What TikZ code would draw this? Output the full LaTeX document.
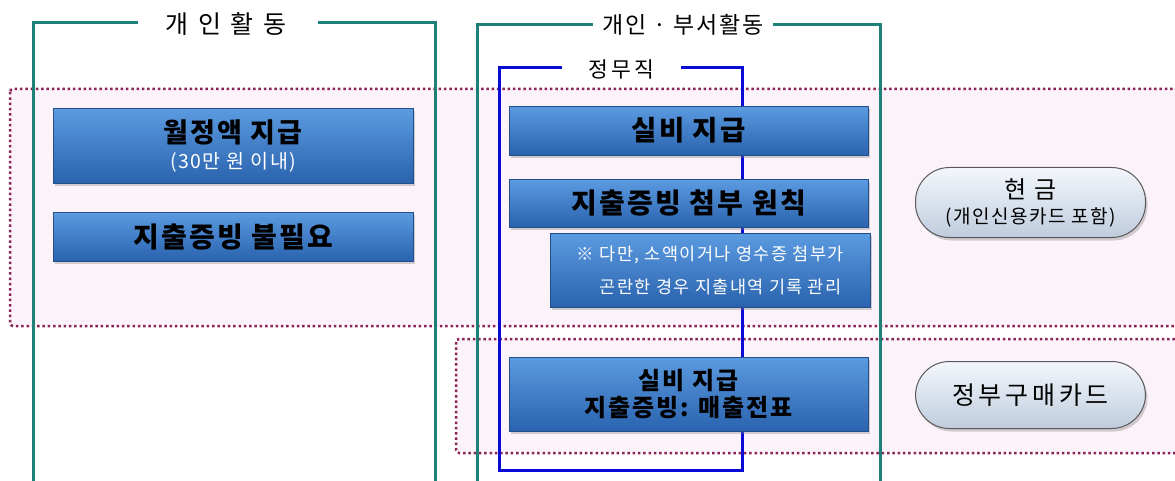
\documentclass[tikz,border=0pt]{standalone}
\usepackage{fontspec}
\setmainfont{Noto Sans CJK KR}
\newfontfamily\kosp[LetterSpace=8]{Noto Sans CJK KR}
\newfontfamily\kospp[LetterSpace=15]{Noto Sans CJK KR}
\usetikzlibrary{shadows}
\definecolor{teal1}{HTML}{1F8077}
\definecolor{blue1}{HTML}{0A0AD8}
\definecolor{dotc}{HTML}{8A2458}
\definecolor{pinkbg}{HTML}{FCF3FA}
\definecolor{boxtop}{HTML}{5B9BE0}
\definecolor{boxbot}{HTML}{2A62AE}
\definecolor{pilltop}{HTML}{F4F7FC}
\definecolor{pillbot}{HTML}{BFCCDD}
\tikzset{
  frameline/.style={line width=3pt, teal1},
  subline/.style={line width=3pt, blue1},
  dotregion/.style={draw=dotc, line width=2.5pt, dash pattern=on 2.5pt off 2.8pt, fill=pinkbg, rounded corners=3pt},
  bluebox/.style={anchor=north west, inner sep=0pt, align=center, top color=boxtop, bottom color=boxbot, draw=boxbot!80!black, line width=0.4pt,
    drop shadow={shadow xshift=1.5pt, shadow yshift=-2.5pt, opacity=0.35}},
  pill/.style={anchor=north west, inner sep=0pt, align=center, rounded corners=34pt, top color=pilltop, bottom color=pillbot, draw=gray!70!black, line width=1pt,
    drop shadow={shadow xshift=2pt, shadow yshift=-3pt, opacity=0.35}},
  title/.style={text=black, inner sep=2pt},
  boxtxt/.style={font=\kosp\fontsize{28}{32}\selectfont\bfseries},
}
\begin{document}
\begin{tikzpicture}[x=1pt,y=-1pt]
\clip (0,0) rectangle (1175,481);
\fill[white] (0,0) rectangle (1175,481);
% dotted regions
\draw[dotregion] (10,89) rectangle (1190,326);
\draw[dotregion] (456,339) rectangle (1190,453);
% left frame
\node[title, font=\kospp\fontsize{25}{28}\selectfont] (t1) at (226,24) {개 인 활 동};
\draw[frameline] (138,23) -- (33,23) -- (33,490);
\draw[frameline] (318,23) -- (435,23) -- (435,490);
% right frame
\node[title, font=\kosp\fontsize{23}{26}\selectfont] (t2) at (683,25) {개인 · 부서활동};
\draw[frameline] (593,25) -- (477,25) -- (477,490);
\draw[frameline] (773,25) -- (880,25) -- (880,490);
% blue frame
\node[title, font=\kospp\fontsize{21.5}{24}\selectfont] (t3) at (621,69) {정무직};
\draw[subline] (562,68) -- (499,68) -- (499,470) -- (742,470) -- (742,68) -- (681,68);
% left boxes
\node[bluebox, minimum width=360pt, minimum height=75pt, font=\kosp\fontsize{27}{30}\selectfont] (b1) at (53,108)
  {\bfseries 월정액 지급\\[-4pt]{\fontsize{19.5}{22}\selectfont\color{white} (30만 원 이내)}};
\node[bluebox, minimum width=360pt, minimum height=49pt, boxtxt] (b2) at (53,212) {지출증빙 불필요};
% right boxes
\node[bluebox, minimum width=359pt, minimum height=49pt, font=\kosp\fontsize{27.5}{32}\selectfont\bfseries] (b3) at (509,106) {실비 지급};
\node[bluebox, minimum width=359pt, minimum height=48pt, boxtxt] (b4) at (509,179) {지출증빙 첨부 원칙};
\node[bluebox, minimum width=320pt, minimum height=74pt, font=\kosp\fontsize{17.5}{33}\selectfont, text=white] (b5) at (550,233)
  {※ 다만, 소액이거나 영수증 첨부가\\\hspace*{1.2em}곤란한 경우 지출내역 기록 관리};
\node[bluebox, minimum width=359pt, minimum height=74pt, font=\kosp\fontsize{24}{27}\selectfont\bfseries] (b6) at (509,357)
  {실비 지급\\지출증빙: 매출전표};
% pills
\node[pill, minimum width=230pt, minimum height=70pt, font=\kosp\fontsize{24}{27}\selectfont] (p1) at (915,167)
  {현 금\\[-2pt]{\fontsize{19}{22}\selectfont (개인신용카드 포함)}};
\node[pill, minimum width=230pt, minimum height=67pt, font=\kospp\fontsize{25}{28}\selectfont] (p2) at (915,361) {정부구매카드};
\end{tikzpicture}
\end{document}
